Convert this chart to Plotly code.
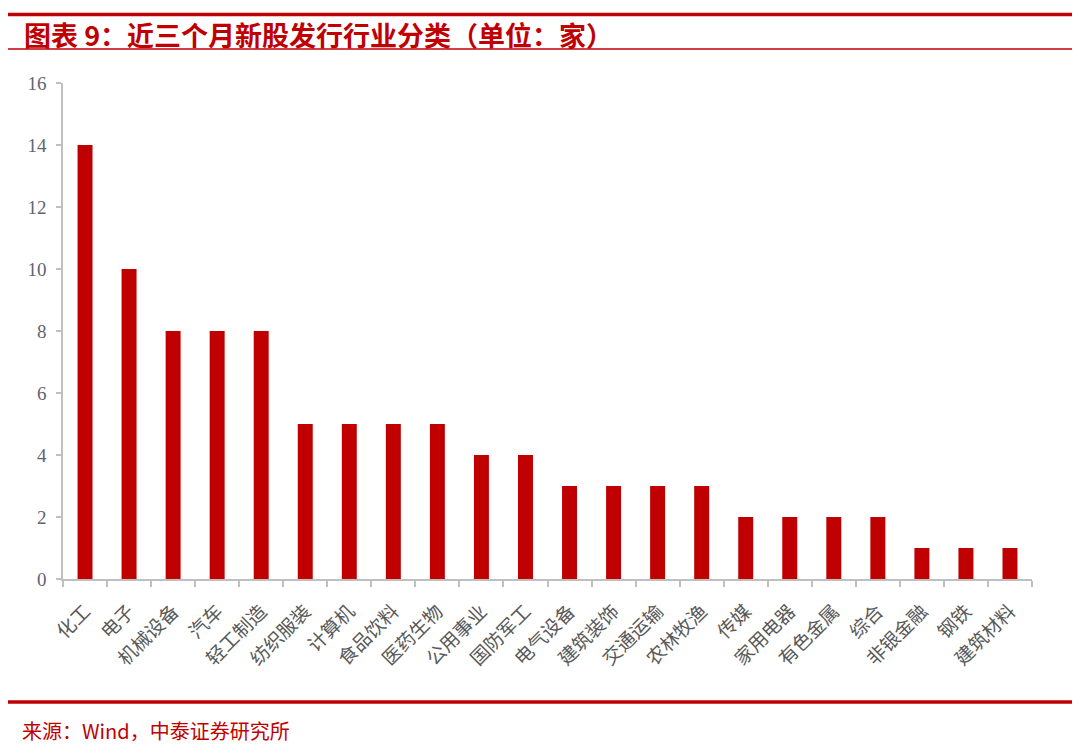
import plotly.graph_objects as go

# 近三个月新股发行行业分类（单位：家）
industries = ["化工", "电子", "机械设备", "汽车", "轻工制造", "纺织服装", "计算机",
              "食品饮料", "医药生物", "公用事业", "国防军工", "电气设备", "建筑装饰",
              "交通运输", "农林牧渔", "传媒", "家用电器", "有色金属", "综合",
              "非银金融", "钢铁", "建筑材料"]
counts = [14, 10, 8, 8, 8, 5, 5, 5, 5, 4, 4, 3, 3, 3, 3, 2, 2, 2, 2, 1, 1, 1]

y_ticks = [0, 2, 4, 6, 8, 10, 12, 14, 16]

RED = "#C00000"
GRAY = "#BFBFBF"

fig = go.Figure()
fig.add_trace(go.Bar(x=industries, y=counts, marker=dict(color=RED, line=dict(width=0))))

# page has an 8px body margin, so the figure is 8px smaller than the window
fig.update_layout(
    width=1072, height=747,
    margin=dict(l=55, r=48, t=75, b=176, autoexpand=False),
    paper_bgcolor="white", plot_bgcolor="white",
    bargap=0.66,
    showlegend=False,
    font=dict(family="Noto Sans CJK SC", color="#595959"),
)

fig.update_xaxes(
    showline=True, linecolor=GRAY, linewidth=1.5,
    ticks="outside", tickson="boundaries", ticklen=6, tickcolor=GRAY, tickwidth=1.5,
    tickangle=-45, ticklabelstandoff=12,
    tickfont=dict(family="Noto Sans CJK SC", size=19, color="#595959"),
    showgrid=False, zeroline=False, automargin=False,
)
fig.update_yaxes(
    range=[0, 16], tickvals=y_ticks,
    showline=True, linecolor=GRAY, linewidth=1.5,
    ticks="outside", ticklen=5, tickcolor=GRAY, tickwidth=1.5, ticklabelstandoff=6,
    tickfont=dict(family="Liberation Serif", size=19, color="#5F6470"),
    showgrid=False, zeroline=False, automargin=False,
)

# header and footer rules
fig.add_shape(type="line", xref="paper", yref="paper", x0=-0.0568, x1=1.0464,
              y0=1.138, y1=1.138, line=dict(color=RED, width=3.5))
fig.add_shape(type="line", xref="paper", yref="paper", x0=-0.0568, x1=1.0464,
              y0=1.0685, y1=1.0685, line=dict(color=RED, width=1.5))
fig.add_shape(type="line", xref="paper", yref="paper", x0=-0.0568, x1=1.0464,
              y0=-0.248, y1=-0.248, line=dict(color=RED, width=3.5))

fig.add_annotation(text="<b>图表 9：近三个月新股发行行业分类（单位：家）</b>",
                   xref="paper", yref="paper", x=-0.0423, y=1.0968,
                   xanchor="left", yanchor="middle", showarrow=False,
                   font=dict(family="Noto Sans CJK SC", size=27, color=RED))
fig.add_annotation(text="来源：Wind，中泰证券研究所",
                   xref="paper", yref="paper", x=-0.0444, y=-0.306,
                   xanchor="left", yanchor="middle", showarrow=False,
                   font=dict(family="Noto Sans CJK SC", size=20, color=RED))

fig.write_html("out.html")
